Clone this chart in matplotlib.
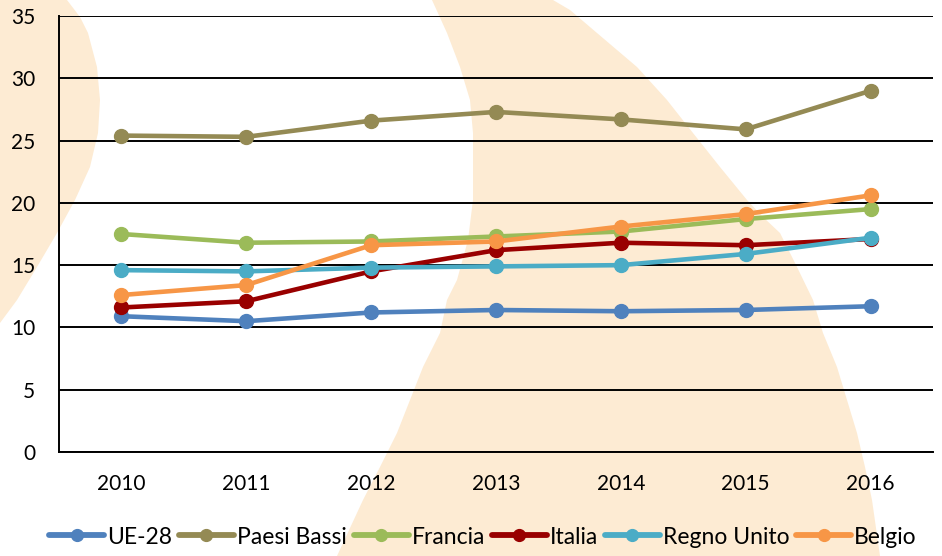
import matplotlib
matplotlib.use("Agg")
import matplotlib.pyplot as plt
from matplotlib.patches import Polygon
import numpy as np

years = ["2010", "2011", "2012", "2013", "2014", "2015", "2016"]
ue28 = [10.9, 10.5, 11.2, 11.4, 11.3, 11.4, 11.7]
paesi_bassi = [25.4, 25.3, 26.6, 27.3, 26.7, 25.9, 29.0]
francia = [17.5, 16.8, 16.9, 17.3, 17.7, 18.7, 19.5]
italia = [11.6, 12.1, 14.5, 16.2, 16.8, 16.6, 17.1]
regno_unito = [14.6, 14.5, 14.8, 14.9, 15.0, 15.9, 17.2]
belgio = [12.6, 13.4, 16.6, 16.9, 18.1, 19.1, 20.6]

series = [
    ("UE-28", ue28, "#4F81BD"),
    ("Paesi Bassi", paesi_bassi, "#948A54"),
    ("Francia", francia, "#9BBB59"),
    ("Italia", italia, "#990000"),
    ("Regno Unito", regno_unito, "#4BACC6"),
    ("Belgio", belgio, "#F79646"),
]

plt.rcParams['font.family'] = ['Lato', 'DejaVu Sans']

W, H = 942, 556
fig = plt.figure(figsize=(W / 100, H / 100), dpi=100)

beige = "#FDEBD3"
def px(pts):
    return [(x / W, 1 - y / H) for x, y in pts]

left_blob = [(0, 0), (67, 0), (80, 17), (88, 33), (97, 67), (100, 100), (98, 133),
             (90, 167), (75, 200), (57, 233), (37, 267), (17, 300), (0, 323)]
mid_right = [(553, 0), (570, 10), (597, 33), (637, 67), (667, 100), (693, 133),
             (720, 167), (747, 200), (763, 217), (780, 233), (797, 267), (813, 300),
             (823, 333), (837, 367), (847, 400), (857, 433), (865, 467), (872, 500),
             (880, 556)]
mid_left = [(432, 0), (447, 33), (460, 67), (470, 100), (473, 133), (473, 200),
            (468, 240), (457, 280), (447, 300), (440, 333), (423, 367), (410, 400),
            (397, 433), (380, 467), (363, 500), (337, 556)]
mid_band = mid_right + mid_left[::-1]
for poly in (left_blob, mid_band):
    fig.patches.append(Polygon(px(poly), closed=True, transform=fig.transFigure,
                               facecolor=beige, edgecolor="none", zorder=-1))

ax = fig.add_axes([59 / W, 1 - 452 / H, (933 - 59) / W, (452 - 16) / H])
ax.set_facecolor("none")
x = np.arange(len(years))
for name, vals, col in series:
    ax.plot(x, vals, color=col, lw=3.3, marker="o", markersize=10, label=name,
            solid_capstyle="round", zorder=3)

ax.set_xlim(-0.5, len(years) - 0.5)
ax.set_ylim(0, 35)
ax.set_yticks(range(0, 36, 5))
ax.set_xticks(x)
ax.set_xticklabels(years)
ax.yaxis.grid(True, color="black", lw=1.4)
ax.set_axisbelow(True)
ax.tick_params(axis="both", length=0, labelsize=15, colors="black")
ax.tick_params(axis="x", pad=16)
ax.tick_params(axis="y", pad=17)
for s in ["top", "right"]:
    ax.spines[s].set_visible(False)
ax.spines["left"].set_color("black")
ax.spines["left"].set_linewidth(1.4)
ax.spines["bottom"].set_color("black")
ax.spines["bottom"].set_linewidth(1.4)

leg = fig.legend(loc="center", bbox_to_anchor=(0.5 + 12 / W, 1 - 537 / H), ncol=6,
                 frameon=False, fontsize=16.5, handlelength=2.4, handletextpad=0.13,
                 columnspacing=0.3, markerscale=0.85)
for line in leg.get_lines():
    line.set_linewidth(4.2)

fig.savefig("out.png", dpi=100)
